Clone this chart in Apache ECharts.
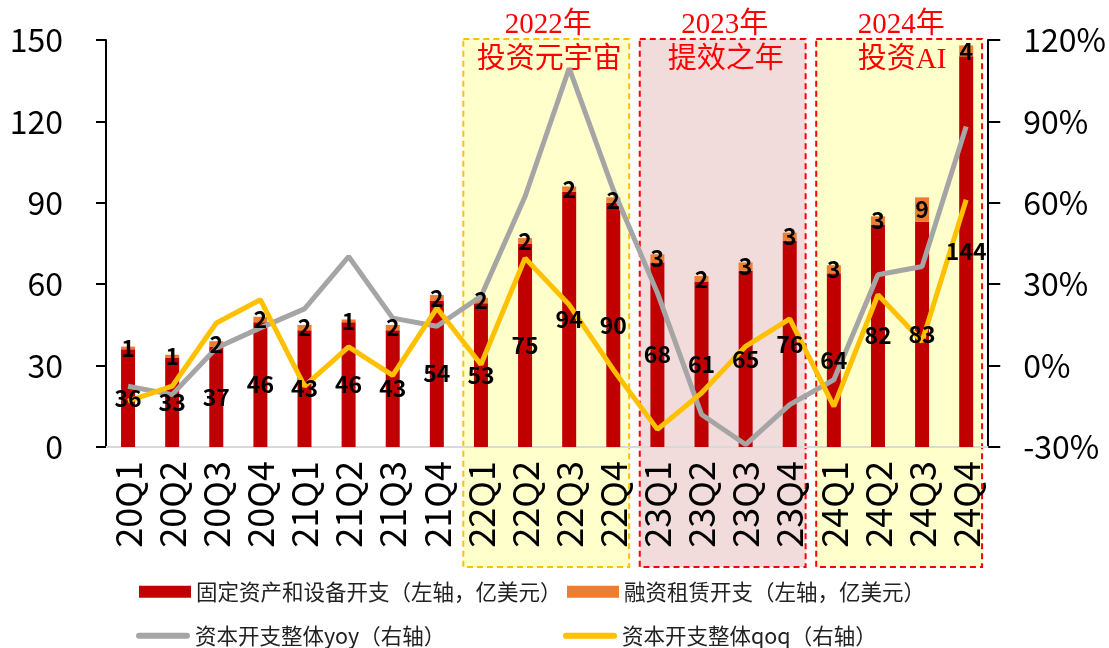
<!DOCTYPE html>
<html>
<head>
<meta charset="utf-8">
<script src="https://cdn.jsdelivr.net/npm/echarts@6/dist/echarts.min.js"></script>
<style>
  html, body { margin: 0; padding: 0; background: #fff; }
  #chart { width: 1109px; height: 648px; }
</style>
</head>
<body>
<div id="chart"></div>
<script>
// quarters
const categories = ['20Q1', '20Q2', '20Q3', '20Q4', '21Q1', '21Q2', '21Q3', '21Q4',
  '22Q1', '22Q2', '22Q3', '22Q4', '23Q1', '23Q2', '23Q3', '23Q4',
  '24Q1', '24Q2', '24Q3', '24Q4']
// 亿美元
const fixedAssets = [36, 33, 37, 46, 43, 46, 43, 54, 53, 75, 94, 90, 68, 61, 65, 76, 64, 82, 83, 144]
const financeLease = [1, 1, 2, 2, 2, 1, 2, 2, 2, 2, 2, 2, 3, 2, 3, 3, 3, 3, 9, 4]
// %
const capexYoy = [-7.6, -10.7, 6.5, 13.9, 20.9, 40.2, 17.5, 14.5, 25.5, 62.3, 109.6, 64.8,
  26.8, -18, -29.1, -14.4, -5.2, 33.5, 36.5, 88.1]
const capexQoq = [-13.1, -7.6, 15.7, 24.3, -7.6, 6.9, -3.6, 21.2, 0.4, 39.6, 22.4, -1.5,
  -23.5, -10.1, 7.1, 17.2, -15, 26.1, 8.9, 61.1]
const leftTicks = [0, 150, 30]
const rightTicks = [-30, 120, 30]

// 年度标注
const periodStart = ['22Q1', '23Q1', '24Q1']
const periodEnd = ['22Q4', '23Q4', '24Q4']
const periodYear = ['2022年', '2023年', '2024年']
const periodTheme = ['投资元宇宙', '提效之年', '投资AI']

const names = [
  '固定资产和设备开支（左轴，亿美元）',
  '融资租赁开支（左轴，亿美元）',
  '资本开支整体yoy（右轴）',
  '资本开支整体qoq（右轴）'
]

const font = 'Noto Sans CJK SC, Noto Sans, sans-serif'
const chart = echarts.init(document.getElementById('chart'))

const labelStyle = {
  show: true,
  position: 'inside',
  color: '#000',
  fontSize: 23,
  fontWeight: 'bold',
  fontFamily: font
}
const lineIcon = 'path://M3,0 H51 A3,3 0 0 1 51,6 H3 A3,3 0 0 1 3,0 Z'

function legendAt(name, left, top, isLine) {
  return {
    data: [name],
    left: left,
    top: top,
    padding: 0,
    icon: isLine ? lineIcon : 'rect',
    itemWidth: isLine ? 54 : 52,
    itemHeight: isLine ? 6 : 12,
    textStyle: { fontSize: 21.5, color: '#222', fontFamily: font },
    selectedMode: false
  }
}

// 标签单独放一层，压在折线上面
function labelLayer(name, data) {
  return {
    name: name,
    type: 'bar',
    stack: 'lbl',
    barWidth: 14,
    barGap: '-100%',
    z: 5,
    silent: true,
    itemStyle: { color: 'rgba(0,0,0,0)' },
    label: labelStyle,
    data: data
  }
}

const option = {
  animation: false,
  backgroundColor: '#fff',
  textStyle: { fontFamily: font },
  grid: { left: 106, right: 119, top: 40, bottom: 201 },
  legend: [
    legendAt(names[0], 139, 581, false),
    legendAt(names[1], 567, 581, false),
    legendAt(names[2], 136, 625, true),
    legendAt(names[3], 563, 625, true)
  ],
  xAxis: {
    type: 'category',
    data: categories,
    axisLine: { lineStyle: { color: '#d9d9d9', width: 2 } },
    axisTick: { show: false },
    axisLabel: { interval: 0, rotate: 90, fontSize: 36, color: '#000', margin: 14, fontFamily: font }
  },
  yAxis: [
    {
      type: 'value',
      min: leftTicks[0],
      max: leftTicks[1],
      interval: leftTicks[2],
      axisLine: { show: true, lineStyle: { color: '#000', width: 2 } },
      axisTick: { show: true, length: 10, lineStyle: { color: '#000', width: 2 } },
      splitLine: { show: false },
      axisLabel: { fontSize: 32, color: '#000', margin: 43, fontFamily: font }
    },
    {
      type: 'value',
      position: 'right',
      min: rightTicks[0],
      max: rightTicks[1],
      interval: rightTicks[2],
      axisLine: { show: true, lineStyle: { color: '#000', width: 2 } },
      axisTick: { show: true, length: 12, lineStyle: { color: '#000', width: 2 } },
      splitLine: { show: false },
      axisLabel: { fontSize: 32, color: '#000', margin: 35, formatter: '{value}%', fontFamily: font }
    }
  ],
  series: [
    {
      name: names[0],
      type: 'bar',
      stack: 'capex',
      barWidth: 14,
      barGap: '-100%',
      itemStyle: { color: '#C00000' },
      data: fixedAssets
    },
    {
      name: names[1],
      type: 'bar',
      stack: 'capex',
      barWidth: 14,
      barGap: '-100%',
      itemStyle: { color: '#ED7D31' },
      data: financeLease
    },
    {
      name: names[2],
      type: 'line',
      yAxisIndex: 1,
      symbol: 'none',
      lineStyle: { color: '#A5A5A5', width: 5 },
      itemStyle: { color: '#A5A5A5' },
      data: capexYoy
    },
    {
      name: names[3],
      type: 'line',
      yAxisIndex: 1,
      symbol: 'none',
      lineStyle: { color: '#FFC000', width: 5 },
      itemStyle: { color: '#FFC000' },
      data: capexQoq
    },
    labelLayer('fixedLabel', fixedAssets),
    labelLayer('leaseLabel', financeLease)
  ]
}

chart.setOption(option)

// 背景框：由分类轴位置换算
const boxFill = ['#FFFFCC', '#F2DCDB', '#FFFFCC']
const boxStroke = ['#FFC000', '#FF0000', '#FF0000']
const step = chart.convertToPixel({ xAxisIndex: 0 }, categories[1]) -
  chart.convertToPixel({ xAxisIndex: 0 }, categories[0])
const graphics = []
periodStart.forEach((s, i) => {
  const x0 = chart.convertToPixel({ xAxisIndex: 0 }, s) - step * 0.4
  const x1 = chart.convertToPixel({ xAxisIndex: 0 }, periodEnd[i]) + step * 0.36
  const cx = (x0 + x1) / 2
  graphics.push({
    type: 'rect',
    z: -1,
    shape: { x: x0, y: 39, width: x1 - x0, height: 528 },
    style: { fill: boxFill[i], stroke: boxStroke[i], lineWidth: 2, lineDash: [6, 4] }
  })
  graphics.push({
    type: 'text',
    z: 10,
    x: cx + 2,
    y: 25,
    style: {
      text: periodYear[i],
      fill: '#FF0000',
      fontSize: 29,
      fontFamily: 'Liberation Serif, Noto Sans CJK SC, serif',
      align: 'center',
      verticalAlign: 'middle'
    }
  })
  graphics.push({
    type: 'text',
    z: 10,
    x: cx + 3,
    y: 60,
    style: {
      text: periodTheme[i],
      fill: '#FF0000',
      fontSize: 29,
      fontFamily: 'Liberation Serif, Noto Sans CJK SC, serif',
      align: 'center',
      verticalAlign: 'middle'
    }
  })
})
chart.setOption({ graphic: graphics })
</script>
</body>
</html>
